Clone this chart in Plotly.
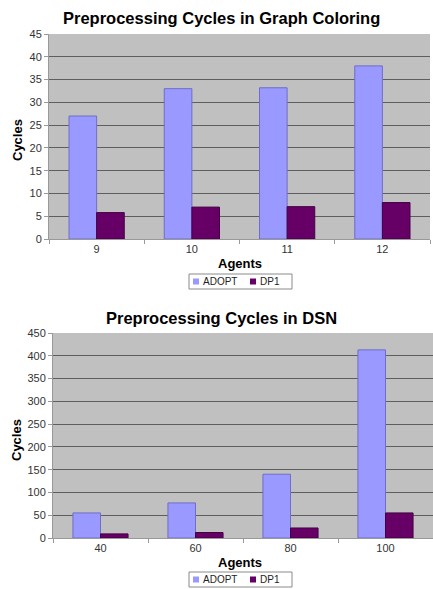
import plotly.graph_objects as go

agents_gc = ["9", "10", "11", "12"]
adopt_gc = [27, 33, 33.2, 38]
dp1_gc = [5.8, 7, 7.1, 8]

agents_dsn = ["40", "60", "80", "100"]
adopt_dsn = [55, 77, 140, 413]
dp1_dsn = [9, 12, 22, 55]

series_names = ["ADOPT", "DP1"]

W, H = 433, 589
ADOPT_C = "#9999FF"
DP1_C = "#660066"
FONT = "Liberation Sans, Arial, sans-serif"

fig = go.Figure()
fig.add_trace(go.Bar(x=agents_gc, y=adopt_gc, name=series_names[0], marker=dict(color=ADOPT_C, line=dict(color="#6e6ec8", width=1)),
                     xaxis="x", yaxis="y"))
fig.add_trace(go.Bar(x=agents_gc, y=dp1_gc, name=series_names[1], marker=dict(color=DP1_C, line=dict(color="#440044", width=1)),
                     xaxis="x", yaxis="y"))
fig.add_trace(go.Bar(x=agents_dsn, y=adopt_dsn, name=series_names[0], marker=dict(color=ADOPT_C, line=dict(color="#6e6ec8", width=1)),
                     xaxis="x2", yaxis="y2"))
fig.add_trace(go.Bar(x=agents_dsn, y=dp1_dsn, name=series_names[1], marker=dict(color=DP1_C, line=dict(color="#440044", width=1)),
                     xaxis="x2", yaxis="y2"))

def py(p):
    return (H - p) / H

def px(p):
    return p / W

axfont = dict(family=FONT, size=11, color="#333333")
common_x = dict(type="category", showgrid=False, showline=True, linecolor="#999999", linewidth=1,
                ticks="outside", ticklen=4, tickcolor="#999999", tickson="boundaries",
                tickfont=axfont, fixedrange=True, automargin=False)
common_y = dict(showgrid=True, gridcolor="#5e5e5e", gridwidth=1, showline=True, linecolor="#999999",
                ticks="outside", ticklen=4, tickcolor="#999999", tickfont=axfont, zeroline=False,
                fixedrange=True, automargin=False)

fig.update_layout(
    width=W, height=H,
    margin=dict(l=0, r=0, t=0, b=0, autoexpand=False),
    paper_bgcolor="white",
    plot_bgcolor="#C0C0C0",
    barmode="group",
    bargap=0.42,
    bargroupgap=0,
    showlegend=False,
    hovermode=False,
    xaxis=dict(domain=[px(49), px(430)], anchor="y", **common_x),
    yaxis=dict(domain=[py(239), py(34)], range=[0, 45], dtick=5, anchor="x", **common_y),
    xaxis2=dict(domain=[px(53), px(433)], anchor="y2", **common_x),
    yaxis2=dict(domain=[py(538), py(333)], range=[0, 450], dtick=50, anchor="x2", **common_y),
)

ann = []
shapes = []
tfont = dict(family=FONT, size=16.5, color="black")
lfont = dict(family=FONT, size=13, color="black")
legfont = dict(family=FONT, size=10, color="#222222")

for title, ty, agents_y, cyc_y, leg_top in [
    ("Preprocessing Cycles in Graph Coloring", 18, 263, 140, 274),
    ("Preprocessing Cycles in DSN", 318, 562, 440, 572),
]:
    ann.append(dict(text="<b>%s</b>" % title, x=px(221), y=py(ty), xref="paper", yref="paper",
                    showarrow=False, font=tfont, xanchor="center", yanchor="middle"))
    ann.append(dict(text="<b>Agents</b>", x=px(240), y=py(agents_y), xref="paper", yref="paper",
                    showarrow=False, font=lfont, xanchor="center", yanchor="middle"))
    ann.append(dict(text="<b>Cycles</b>", x=px(17), y=py(cyc_y), xref="paper", yref="paper", textangle=-90,
                    showarrow=False, font=lfont, xanchor="center", yanchor="middle"))
    # legend box
    lb = leg_top + 15
    shapes.append(dict(type="rect", xref="paper", yref="paper", x0=px(189), x1=px(292), y0=py(lb), y1=py(leg_top),
                       line=dict(color="#8a8a8a", width=1), fillcolor="white", layer="above"))
    cy = (leg_top + lb) / 2
    for name, col, sx in [(series_names[0], ADOPT_C, 193), (series_names[1], DP1_C, 250)]:
        shapes.append(dict(type="rect", xref="paper", yref="paper", x0=px(sx), x1=px(sx + 6),
                           y0=py(cy + 3), y1=py(cy - 3), line=dict(width=0), fillcolor=col, layer="above"))
        ann.append(dict(text=name, x=px(sx + 8), y=py(cy), xref="paper", yref="paper",
                        showarrow=False, font=legfont, xanchor="left", yanchor="middle"))

fig.update_layout(annotations=ann, shapes=shapes)

fig.write_html("out.html", config={"displayModeBar": False, "staticPlot": True},
               post_script="document.body.style.margin='0';document.body.style.padding='0';document.body.style.overflow='hidden';")
